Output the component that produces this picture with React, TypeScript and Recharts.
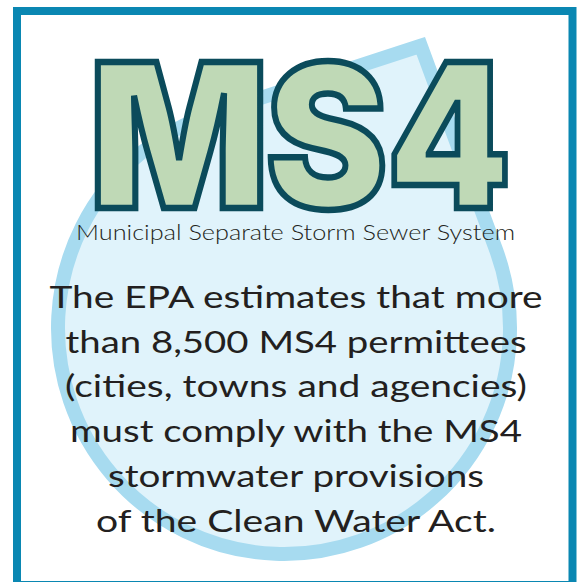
import { ScatterChart, Scatter, XAxis, YAxis, ReferenceArea } from 'recharts';

// values (canvas px, y grows downward)
const frame = { x1: 17, x2: 572.5, y1: 11, y2: 585 };
const dropBulb = [{ x: 284, y: 328, tipX: 425, tipY: 37 }];

const headlineLetters = ['M', 'S', '4'];
const headlineCenters = [179, 326.5, 449];
const headlineWidths = [180, 122, 124];

const subtitle = [{ x: 295.5, y: 240, text: 'Municipal Separate Storm Sewer System' }];

const bodyLines = [
  'The EPA estimates that more',
  'than 8,500 MS4 permittees',
  '(cities, towns and agencies)',
  'must comply with the MS4',
  'stormwater provisions',
  'of the Clean Water Act.',
];
const bodyBaselines = [308, 353, 397, 442, 487, 532];
const bodyWidths = [493, 461, 462, 452, 376, 400];

const W = 581;
const H = 582;

const BORDER = '#0A87B2';
const DROP_STROKE = '#A7DBF0';
const DROP_FILL = '#E0F3FB';
const MS4_FILL = '#BFD9B6';
const MS4_STROKE = '#0B4B5B';
const INK = '#231F20';

const DROP_R = 233; // outer radius
const DROP_W = 14;

function dropletPath(cx: number, cy: number, tx: number, ty: number) {
  // move outer tip / radius onto the stroke centre line
  const r = DROP_R - DROP_W / 2;
  const d0 = Math.hypot(tx - cx, ty - cy);
  const half = Math.asin(DROP_R / d0);
  const miter = DROP_W / 2 / Math.sin(half);
  const ux = (cx - tx) / d0;
  const uy = (cy - ty) / d0;
  const px = tx + ux * miter;
  const py = ty + uy * miter;
  const d = Math.hypot(px - cx, py - cy);
  const th = Math.atan2(py - cy, px - cx);
  const a = Math.acos(r / d);
  const p1x = cx + r * Math.cos(th - a);
  const p1y = cy + r * Math.sin(th - a);
  const p2x = cx + r * Math.cos(th + a);
  const p2y = cy + r * Math.sin(th + a);
  return `M${px},${py} L${p1x},${p1y} A${r},${r} 0 1 0 ${p2x},${p2y} Z`;
}

const DropShape = (props: any) => {
  const { cx, cy, payload } = props;
  const tx = cx + (payload.tipX - payload.x);
  const ty = cy + (payload.tipY - payload.y);
  return (
    <path
      d={dropletPath(cx, cy, tx, ty)}
      fill={DROP_FILL}
      stroke={DROP_STROKE}
      strokeWidth={DROP_W}
      strokeLinejoin="miter"
    />
  );
};

const HeadlineShape = (props: any) => {
  const { cx, cy, payload } = props;
  return (
    <text
      x={cx}
      y={cy}
      textAnchor="middle"
      textLength={payload.w}
      lengthAdjust="spacingAndGlyphs"
      fontFamily="Inter, 'DejaVu Sans', sans-serif"
      fontWeight={900}
      fontSize={200}
      fill={MS4_FILL}
      stroke={MS4_STROKE}
      strokeWidth={6.5}
      strokeLinejoin="miter"
    >
      {payload.text}
    </text>
  );
};

const SubtitleShape = (props: any) => {
  const { cx, cy, payload } = props;
  return (
    <text
      x={cx}
      y={cy}
      textAnchor="middle"
      textLength={439}
      lengthAdjust="spacingAndGlyphs"
      fontFamily="Lato, 'Noto Sans', sans-serif"
      fontWeight={300}
      fontSize={22}
      fill={INK}
    >
      {payload.text}
    </text>
  );
};

const BodyShape = (props: any) => {
  const { cx, cy, payload } = props;
  return (
    <text
      x={cx}
      y={cy}
      textAnchor="middle"
      textLength={payload.w}
      lengthAdjust="spacingAndGlyphs"
      fontFamily="Lato, 'Noto Sans', sans-serif"
      fontWeight={400}
      fontSize={31}
      fill={INK}
    >
      {payload.text}
    </text>
  );
};

export default function App() {
  const headline = headlineLetters.map((text, i) => ({ x: headlineCenters[i], y: 208, text, w: headlineWidths[i] }));
  const body = bodyLines.map((text, i) => ({ x: 296, y: bodyBaselines[i], text, w: bodyWidths[i] }));

  return (
    <div style={{ position: 'absolute', left: 0, top: 0, width: W, height: H, background: '#fff' }}>
      <ScatterChart width={W} height={H} margin={{ top: 0, right: 0, bottom: 0, left: 0 }}>
        <XAxis type="number" dataKey="x" domain={[0, W]} allowDataOverflow hide />
        <YAxis type="number" dataKey="y" domain={[0, H]} allowDataOverflow reversed hide />
        <Scatter data={dropBulb} shape={DropShape} isAnimationActive={false} />
        <Scatter data={headline} shape={HeadlineShape} isAnimationActive={false} />
        <Scatter data={subtitle} shape={SubtitleShape} isAnimationActive={false} />
        <Scatter data={body} shape={BodyShape} isAnimationActive={false} />
        <ReferenceArea
          x1={frame.x1}
          x2={frame.x2}
          y1={frame.y1}
          y2={frame.y2}
          ifOverflow="visible"
          fill="none"
          fillOpacity={0}
          stroke={BORDER}
          strokeWidth={8}
          strokeOpacity={1}
        />
      </ScatterChart>
    </div>
  );
}
